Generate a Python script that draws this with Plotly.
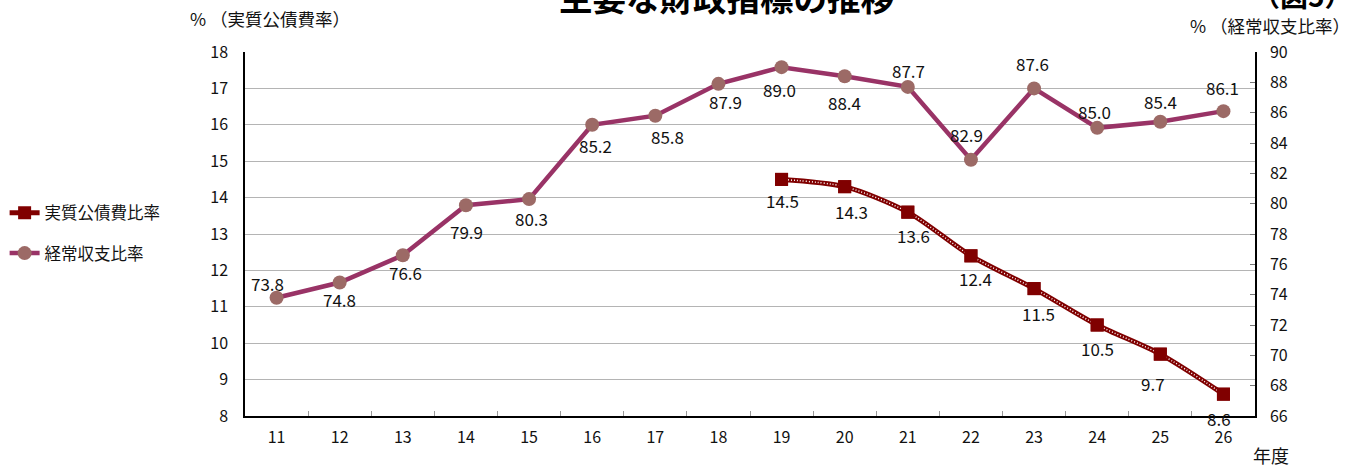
import plotly.graph_objects as go

years = ["11", "12", "13", "14", "15", "16", "17", "18", "19", "20", "21", "22", "23", "24", "25", "26"]
keijo = [73.8, 74.8, 76.6, 79.9, 80.3, 85.2, 85.8, 87.9, 89.0, 88.4, 87.7, 82.9, 87.6, 85.0, 85.4, 86.1]
jisshitsu_years = ["19", "20", "21", "22", "23", "24", "25", "26"]
jisshitsu = [14.5, 14.3, 13.6, 12.4, 11.5, 10.5, 9.7, 8.6]

# label pixel offsets (style)
keijo_dx = [-9, 0, 3, 1, 2, 3, 12, 7, -2, 0, 1, -4, -2, -3, 0, -1]
keijo_dy = [-14, 17, 17, 26, 19, 21, 21, 18, 22, 26, -16, -25, -25, -16, -20, -24]
jis_dx = [1, 7, 6, 5, 4, 0, -7, -4]
jis_dy = [21, 25, 23, 23, 25, 23, 29, 24]

FONT = "Noto Sans CJK JP"
C_KEIJO_LINE = "#993366"
C_KEIJO_MARK = "#9C6A66"
C_JIS = "#800000"

fig = go.Figure()

fig.add_trace(go.Scatter(
    x=jisshitsu_years, y=jisshitsu, name="実質公債費比率",
    mode="lines+markers", yaxis="y",
    line=dict(color=C_JIS, width=5, shape="spline", smoothing=0.8),
    marker=dict(symbol="square", size=13, color=C_JIS),
    legendgroup="a",
))
fig.add_trace(go.Scatter(
    x=jisshitsu_years, y=jisshitsu, mode="lines", yaxis="y",
    line=dict(color="white", width=1.5, dash="1px,2px", shape="spline", smoothing=0.8),
    showlegend=False, hoverinfo="skip",
))
fig.add_trace(go.Scatter(
    x=jisshitsu_years, y=jisshitsu, mode="markers", yaxis="y",
    marker=dict(symbol="square", size=13, color=C_JIS),
    showlegend=False, hoverinfo="skip",
))
fig.add_trace(go.Scatter(
    x=years, y=keijo, name="経常収支比率",
    mode="lines+markers", yaxis="y2",
    line=dict(color=C_KEIJO_LINE, width=4.5),
    marker=dict(symbol="circle", size=14, color=C_KEIJO_MARK),
    legendgroup="b",
))

annotations = []
for x, v, dx, dy in zip(years, keijo, keijo_dx, keijo_dy):
    annotations.append(dict(x=years.index(x), y=v, xref="x", yref="y2", text=f"{v:.1f}",
                            showarrow=False, xshift=dx, yshift=-dy,
                            font=dict(family=FONT, size=17, color="#111")))
for x, v, dx, dy in zip(jisshitsu_years, jisshitsu, jis_dx, jis_dy):
    annotations.append(dict(x=years.index(x), y=v, xref="x", yref="y", text=f"{v:.1f}",
                            showarrow=False, xshift=dx, yshift=-dy,
                            font=dict(family=FONT, size=17, color="#111")))

annotations += [
    dict(text="<b>主要な財政指標の推移</b>", xref="paper", yref="paper", x=0.477, y=1.153,
         xanchor="center", yanchor="middle", showarrow=False,
         font=dict(family=FONT, size=33.5, color="#000")),
    dict(text="<b>（図5）</b>", xref="paper", yref="paper", x=1.0475, y=1.156,
         xanchor="center", yanchor="middle", showarrow=False,
         font=dict(family=FONT, size=28, color="#000")),
    dict(text="% （実質公債費率）", xref="paper", yref="paper", x=0.0248, y=1.093,
         xanchor="center", yanchor="middle", showarrow=False,
         font=dict(family=FONT, size=17.5, color="#111")),
    dict(text="% （経常収支比率）", xref="paper", yref="paper", x=1.015, y=1.074,
         xanchor="center", yanchor="middle", showarrow=False,
         font=dict(family=FONT, size=17.5, color="#111")),
    dict(text="年度", xref="paper", yref="paper", x=1.016, y=-0.107,
         xanchor="center", yanchor="middle", showarrow=False,
         font=dict(family=FONT, size=18, color="#111")),
]

fig.update_layout(
    width=1351, height=466,
    margin=dict(l=245, r=96, t=52, b=50, autoexpand=False),
    paper_bgcolor="white", plot_bgcolor="white",
    font=dict(family=FONT, size=16, color="#111"),
    showlegend=True,
    legend=dict(x=-0.238, y=0.503, xanchor="left", yanchor="middle",
                font=dict(family=FONT, size=16.5, color="#111"),
                traceorder="grouped", tracegroupgap=16,
                bgcolor="rgba(0,0,0,0)", itemwidth=30),
    xaxis=dict(type="category", categoryorder="array", categoryarray=years,
               range=[-0.5, 15.5], showgrid=False,
               showline=True, linecolor="#000", linewidth=1.5,
               ticks="inside", tickson="boundaries", ticklen=5, tickcolor="#999",
               tickfont=dict(family=FONT, size=16, color="#111"),
               ticklabelstandoff=6, mirror=False, zeroline=False),
    yaxis=dict(range=[8, 18], dtick=1, tick0=8, showgrid=True,
               gridcolor="#B4B4B4", gridwidth=1,
               showline=True, linecolor="#000", linewidth=1.5,
               ticks="", tickfont=dict(family=FONT, size=16, color="#111"),
               ticklabelstandoff=12, zeroline=False),
    yaxis2=dict(range=[66, 90], dtick=2, tick0=66, overlaying="y", side="right",
                showgrid=False, showline=True, linecolor="#000", linewidth=1.5,
                ticks="inside", ticklen=5, tickcolor="#777",
                tickfont=dict(family=FONT, size=16, color="#111"),
                ticklabelstandoff=10, zeroline=False),
    annotations=annotations,
)

fig.write_html("out.html", config={"displayModeBar": False},
               post_script="document.body.style.margin='0px';")
